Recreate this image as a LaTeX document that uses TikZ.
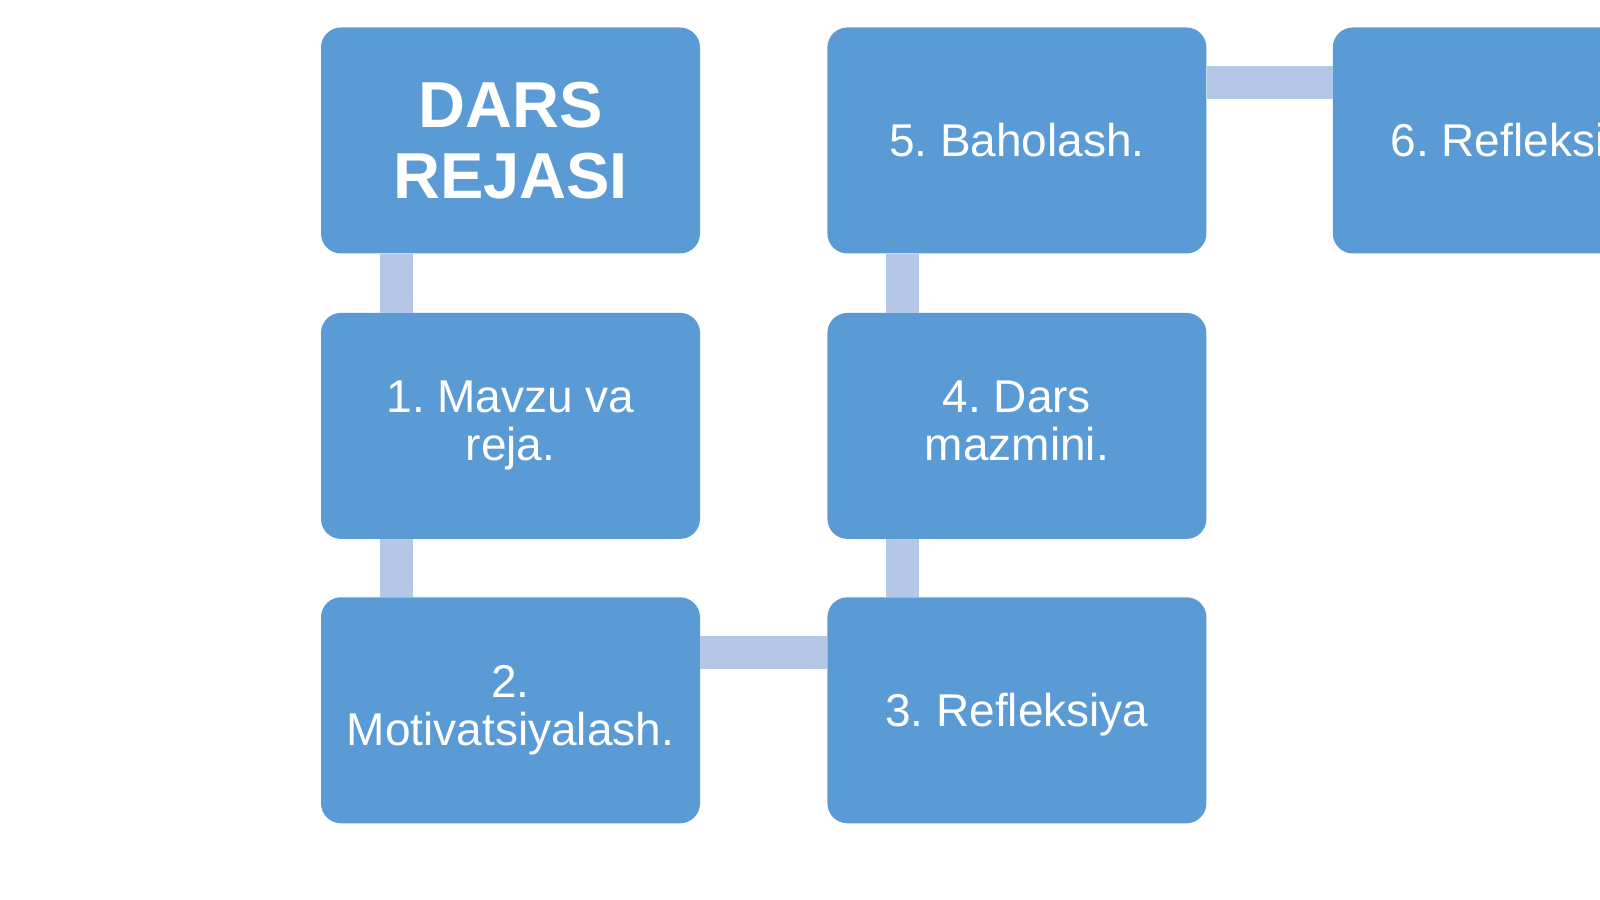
\documentclass[tikz,border=0pt]{standalone}
\usepackage{fontspec}
\setmainfont{Liberation Sans}
\frenchspacing
\usetikzlibrary{positioning}

\definecolor{stageblue}{HTML}{5B9BD5}
\definecolor{linkblue}{HTML}{B4C7E7}
\tikzset{
    box/.style={fill=stageblue, rounded corners=20pt, minimum width=379pt, minimum height=226pt,
        inner sep=0pt, text=white, align=center},
    title/.style={box, font=\bfseries\fontsize{65}{71}\selectfont},
    stage/.style={box, font=\fontsize{46}{48}\selectfont,
        execute at begin node={\rule{0pt}{0.905em}},
        execute at end node={\rule[-0.212em]{0pt}{0.212em}}},
    twoline/.style={execute at begin node={\rule{0pt}{1.04em}}},
    link/.style={draw=linkblue, line width=33pt},
}

\begin{document}
\begin{tikzpicture}[x=1pt, y=1pt]
    \path[use as bounding box, fill=white] (0,0) rectangle (1600,899);
    \clip (0,0) rectangle (1600,899);
    % Nodes
    \node[title] (dars) at (510.5,758.5) {DARS\\REJASI};
    \node[stage, twoline, below=59pt of dars] (mavzu) {1. Mavzu va\\reja.};
    \node[stage, twoline, below=58pt of mavzu] (motiv) {2.\\Motivatsiyalash.};
    \node[stage, right=127pt of motiv] (refl) {3. Refleksiya};
    \node[stage, twoline, above=58pt of refl] (mazmun) {4. Dars\\mazmini.};
    \node[stage, above=59pt of mazmun] (baho) {5. Baholash.};
    \node[stage, right=126pt of baho] (reflb) {6. Refleksiya};
    % Connectors
    \draw[link] ([xshift=76pt]dars.south west) -- ([xshift=76pt]mavzu.north west);
    \draw[link] ([xshift=76pt]mavzu.south west) -- ([xshift=76pt]motiv.north west);
    \draw[link] ([yshift=-55pt]motiv.north east) -- ([yshift=-55pt]refl.north west);
    \draw[link] ([xshift=75pt]refl.north west) -- ([xshift=75pt]mazmun.south west);
    \draw[link] ([xshift=75pt]mazmun.north west) -- ([xshift=75pt]baho.south west);
    \draw[link] ([yshift=-55pt]baho.north east) -- ([yshift=-55pt]reflb.north west);
\end{tikzpicture}
\end{document}
